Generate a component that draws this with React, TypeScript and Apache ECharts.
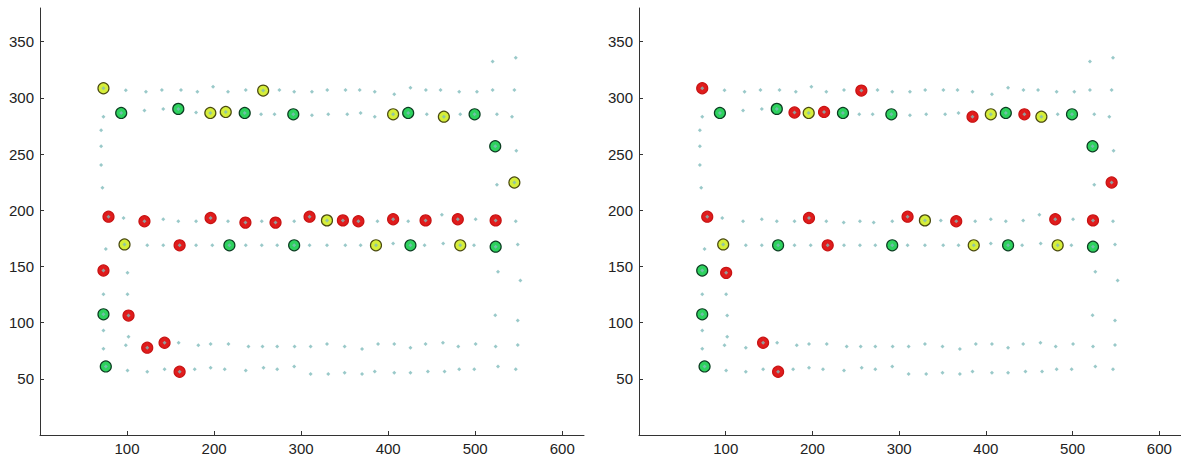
import React, { useEffect, useRef } from "react";
import * as echarts from "echarts";

// Sensor track positions (small cyan dots), shared by both panels
const trackDots: [number, number][] = [
  // top row
  [72.9, 308.6], [98.6, 306.8], [121.7, 305.4], [140, 307], [162, 307], [180.8, 305.4], [198.8, 310], [216, 305.4],
  [236.4, 307], [256.4, 306.5], [275, 307], [292, 305.4], [312.4, 305.4], [330, 307], [351, 307], [367.3, 307],
  [384.6, 305.4], [407, 303.3], [425.6, 309], [443.3, 307], [460.2, 307], [481.6, 305.4], [502, 305.4], [520, 307], [545, 307],
  [520, 332.4], [546.6, 335.7],
  // second row
  [72.9, 283.3], [93.3, 286.6], [120, 288.7], [141.6, 290.2], [158.9, 290.2], [179.3, 287], [195.7, 286.6], [213.4, 287.5],
  [235.2, 286.6], [254, 285.4], [269.4, 285.4], [291, 285.4], [312.4, 284.5], [331.2, 285.4], [353, 285.4], [368.4, 286.6],
  [384.6, 283.3], [405.7, 285.4], [423, 286.6], [444.4, 285.4], [464, 283.3], [482.8, 285.4], [499.3, 285.4], [525, 285.4], [542.3, 283.3],
  // right column (upper)
  [523, 257], [547.2, 253], [525, 222.6], [545, 224.7],
  // left column (upper)
  [70.2, 271.2], [70.2, 256.9], [70.2, 240.2], [71.7, 220],
  // row ~190
  [78.7, 194.3], [96, 193.1], [120, 190.2], [141.6, 192], [158.9, 190.2], [179.3, 190.2], [196, 193.1], [216, 190.2],
  [236, 189], [254.8, 190.2], [270.6, 189], [292, 190.2], [309.7, 194.3], [329.7, 191], [348, 191], [365.8, 190.2],
  [387.7, 190.2], [405.7, 192], [423, 190.2], [443, 191], [461.7, 196], [480, 192], [500.5, 192], [523.5, 191], [546.6, 190.2],
  // row ~168
  [75.6, 165.5], [97.1, 169.6], [123.2, 168.8], [141.6, 168.8], [160.4, 168.8], [179.3, 168.8], [198, 168.8], [217.6, 168.8],
  [236.4, 168.8], [254.8, 168.8], [272.5, 168.8], [292, 168.8], [309.7, 168.8], [329.7, 168.8], [350.8, 168.8], [368.4, 168.8],
  [386, 168.8], [405.7, 170.5], [425.6, 168.8], [441.8, 168.8], [463.2, 170.5], [482.8, 168.8], [498.6, 168.8], [523.5, 167.6], [548.9, 169.6],
  // right column (lower)
  [526.2, 145.3], [551.9, 137.5], [523, 106.5], [548.9, 102],
  // left column (lower)
  [72.9, 146.4], [100.5, 144.3], [72.9, 125.3], [100.5, 125.3], [72.9, 107.4], [101.7, 106.3], [72.9, 93.1], [101.7, 87.5],
  [72.9, 76.8], [98.6, 79.8],
  // row ~80
  [123.2, 77.7], [143.1, 82.1], [159.3, 82.1], [181.9, 79.8], [196, 81], [216.5, 81], [239.5, 78.8], [255.6, 78.8],
  [272.5, 78.8], [292.5, 78.8], [310.9, 78.8], [329.7, 81], [350, 78.8], [370, 76.5], [388.4, 81], [407, 81],
  [425.6, 77.7], [443, 81], [462.9, 82.1], [480.5, 78.8], [500.5, 81], [523.5, 78.8], [548.9, 80],
  // row ~57
  [75.6, 61], [100.5, 57.4], [123.2, 56.3], [143.1, 58.6], [160.4, 56.3], [177.7, 58.6], [196, 59.8], [212.2, 58.6],
  [236.4, 57.4], [256.8, 59.8], [272.5, 58.6], [292, 61], [310.9, 54.2], [331.2, 54.2], [350, 55.4], [370, 54.2],
  [384.6, 56.5], [407, 55.4], [425.6, 55.4], [445.6, 56.5], [464.8, 56.5], [481.6, 58.6], [498.9, 58.6], [526.2, 61], [546.6, 58.6],
];

// Left panel markers
const leftRed: [number, number][] = [
  [78.7, 194.3], [120, 190.2], [196, 193.1], [236, 189], [270.6, 189], [309.7, 194.3], [348, 191], [365.8, 190.2],
  [405.7, 192], [443, 191], [480, 192], [523.5, 191], [160.4, 168.8], [72.9, 146.4], [101.7, 106.3], [123.2, 77.7],
  [143.1, 82.1], [160.4, 56.3],
];
const leftGreen: [number, number][] = [
  [93.3, 286.6], [158.9, 290.2], [235.2, 286.6], [291, 285.4], [423, 286.6], [499.3, 285.4], [523, 257],
  [217.6, 168.8], [292, 168.8], [425.6, 168.8], [523.5, 167.6], [72.9, 107.4], [75.6, 61],
];
const leftYellow: [number, number][] = [
  [72.9, 308.6], [256.4, 306.5], [195.7, 286.6], [213.4, 287.5], [405.7, 285.4], [464, 283.3], [545, 224.7],
  [329.7, 191], [97.1, 169.6], [386, 168.8], [482.8, 168.8],
];

// Right panel markers
const rightRed: [number, number][] = [
  [72.9, 308.6], [179.3, 287], [213.4, 287.5], [256.4, 306.5], [384.6, 283.3], [444.4, 285.4], [545, 224.7],
  [78.7, 194.3], [196, 193.1], [309.7, 194.3], [365.8, 190.2], [480, 192], [523.5, 191], [217.6, 168.8],
  [100.5, 144.3], [143.1, 82.1], [160.4, 56.3],
];
const rightGreen: [number, number][] = [
  [93.3, 286.6], [158.9, 290.2], [235.2, 286.6], [291, 285.4], [423, 286.6], [499.3, 285.4], [523, 257],
  [160.4, 168.8], [292, 168.8], [425.6, 168.8], [523.5, 167.6], [72.9, 146.4], [72.9, 107.4], [75.6, 61],
];
const rightYellow: [number, number][] = [
  [195.7, 286.6], [405.7, 285.4], [464, 283.3], [97.1, 169.6], [329.7, 191], [386, 168.8], [482.8, 168.8],
];

const xTicks = [100, 200, 300, 400, 500, 600];
const yTicks = [50, 100, 150, 200, 250, 300, 350];

export default function App() {
  const ref = useRef<HTMLDivElement>(null);
  useEffect(() => {
    if (!ref.current) return;
    const chart = echarts.init(ref.current, undefined, { renderer: "svg" });
    const axisCommon = {
      axisLine: { show: true, onZero: false, lineStyle: { color: "#333", width: 1 } },
      axisTick: { show: true, inside: true, length: 4, lineStyle: { color: "#333" } },
      splitLine: { show: false },
    };
    const labelStyle = { color: "#222", fontSize: 15, fontFamily: "'Liberation Sans', Arial, sans-serif" };
    const xAxis = (gi: number) => ({
      type: "value", gridIndex: gi, min: 0, max: 625, ...axisCommon,
      axisTick: { ...axisCommon.axisTick, customValues: xTicks },
      axisLabel: { ...labelStyle, margin: 6, customValues: xTicks },
    });
    const yAxis = (gi: number) => ({
      type: "value", gridIndex: gi, min: 0, max: 380, ...axisCommon,
      axisTick: { ...axisCommon.axisTick, customValues: yTicks },
      axisLabel: { ...labelStyle, margin: 6, customValues: yTicks },
    });
    const dots = (i: number) => ({
      type: "scatter", xAxisIndex: i, yAxisIndex: i, data: trackDots, symbol: "diamond", symbolSize: 4, z: 5,
      itemStyle: { color: "#7fbcbc" }, silent: true,
    });
    const mk = (i: number, data: [number, number][], fill: string, border: string) => ({
      type: "scatter", xAxisIndex: i, yAxisIndex: i, data, symbol: "circle", symbolSize: 11, z: 3,
      itemStyle: { color: fill, borderColor: border, borderWidth: 1.2, opacity: 1 },
    });
    chart.setOption({
      animation: false,
      backgroundColor: "#fff",
      grid: [
        { left: 40, top: 8, width: 544, height: 427 },
        { left: 639, top: 8, width: 542, height: 427 },
      ],
      xAxis: [xAxis(0), xAxis(1)],
      yAxis: [yAxis(0), yAxis(1)],
      series: [
        mk(0, leftRed, "#e01c1c", "#c81414"),
        mk(0, leftGreen, "#2ed25e", "#0c3d22"),
        mk(0, leftYellow, "#d6ee3a", "#4a4a10"),
        dots(0),
        mk(1, rightRed, "#e01c1c", "#c81414"),
        mk(1, rightGreen, "#2ed25e", "#0c3d22"),
        mk(1, rightYellow, "#d6ee3a", "#4a4a10"),
        dots(1),
      ],
    });
    return () => chart.dispose();
  }, []);
  return (
    <div
      ref={ref}
      style={{ position: "absolute", left: 0, top: 0, width: 1181, height: 457, background: "#fff" }}
    />
  );
}
